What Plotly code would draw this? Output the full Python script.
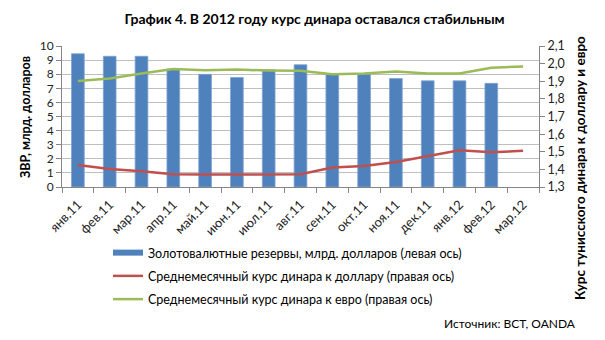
import plotly.graph_objects as go

months = ["янв.11", "фев.11", "мар.11", "апр.11", "май.11", "июн.11", "июл.11", "авг.11",
          "сен.11", "окт.11", "ноя.11", "дек.11", "янв.12", "фев.12", "мар.12"]
reserves = [9.45, 9.27, 9.27, 8.37, 7.99, 7.77, 8.32, 8.67, 8.01, 8.0, 7.70, 7.53, 7.53, 7.35, None]
usd_rate = [1.425, 1.402, 1.390, 1.372, 1.371, 1.371, 1.373, 1.372, 1.410, 1.419, 1.442, 1.476, 1.508, 1.497, 1.505]
eur_rate = [1.902, 1.916, 1.944, 1.970, 1.963, 1.966, 1.961, 1.960, 1.940, 1.944, 1.956, 1.944, 1.944, 1.976, 1.984]

names = ["Золотовалютные резервы, млрд. долларов (левая ось)",
         "Среднемесячный курс динара к доллару (правая ось)",
         "Среднемесячный курс динара к евро (правая ось)"]

BLUE, RED, GREEN = "#4F81BD", "#C0504D", "#9BBB59"
FONT = "Lato"
W, H = 605, 340
L, R, T, B = 62, 66, 46, 153
PW, PH = W - L - R, H - T - B


def px_x(x):
    return (x - L) / PW


def px_y(y):
    return (H - B - y) / PH


fig = go.Figure()
fig.add_trace(go.Bar(x=months, y=reserves, marker=dict(color=BLUE, line=dict(color="#7FA3D0", width=0.8)),
                     showlegend=False, legendgroup="a"))
# legend swatch for the bars (wide flat rectangle)
fig.add_trace(go.Scatter(x=[None], y=[None], mode="lines", line=dict(color=BLUE, width=6),
                         name=names[0], legendgroup="a"))
fig.add_trace(go.Scatter(x=months, y=usd_rate, mode="lines", line=dict(color=RED, width=2.5),
                         name=names[1], yaxis="y2", legendgroup="b"))
fig.add_trace(go.Scatter(x=months, y=eur_rate, mode="lines", line=dict(color=GREEN, width=2.5),
                         name=names[2], yaxis="y2", legendgroup="c"))

fig.update_layout(
    width=W, height=H,
    margin=dict(l=L, r=R, t=T, b=B),
    paper_bgcolor="white", plot_bgcolor="white",
    separators=", ",
    font=dict(family=FONT, size=12, color="#000000"),
    bargap=0.6,
    title=dict(text="<b>График 4. В 2012 году курс динара оставался стабильным</b>",
               x=0.52, xanchor="center", y=0.945, yanchor="middle",
               font=dict(family=FONT, size=14, color="#000000")),
    xaxis=dict(type="category", tickangle=-45, tickson="boundaries", ticks="outside",
               ticklen=5, tickcolor="#868686", showline=True, linecolor="#868686",
               ticklabelstandoff=4, showgrid=False, tickfont=dict(size=13, color="#222222")),
    yaxis=dict(range=[0, 10], dtick=1, showgrid=True, gridcolor="#BFBFBF", gridwidth=1,
               showline=True, linecolor="#868686", ticks="outside", ticklen=5, tickcolor="#868686",
               tickfont=dict(size=12, color="#222222"), zeroline=False),
    yaxis2=dict(range=[1.3, 2.1], dtick=0.1, tickformat=".1f", overlaying="y", side="right",
                showgrid=False, showline=True, linecolor="#868686", ticks="outside", ticklen=5,
                tickcolor="#868686", tickfont=dict(size=12.5, color="#222222"), zeroline=False),
    legend=dict(x=px_x(108), xanchor="left", y=px_y(238), yanchor="top",
                orientation="v", traceorder="grouped", tracegroupgap=4,
                font=dict(size=12.5), itemwidth=30, bgcolor="rgba(0,0,0,0)"),
    annotations=[
        dict(text="Источник: BCT, OANDA", xref="paper", yref="paper",
             x=px_x(578), y=px_y(323), xanchor="right", yanchor="middle",
             showarrow=False, font=dict(family=FONT, size=12, color="#000000")),
        dict(text="<b>ЗВР, млрд. долларов</b>", xref="paper", yref="paper",
             x=px_x(25), y=px_y(117), xanchor="center", yanchor="middle", textangle=-90,
             showarrow=False, font=dict(family=FONT, size=12.5, color="#000000")),
        dict(text="<b>Курс тунисского динара к доллару и евро</b>", xref="paper", yref="paper",
             x=px_x(580), y=px_y(168), xanchor="center", yanchor="middle", textangle=-90,
             showarrow=False, font=dict(family=FONT, size=13.5, color="#000000")),
    ],
)

fig.write_html("out.html")
